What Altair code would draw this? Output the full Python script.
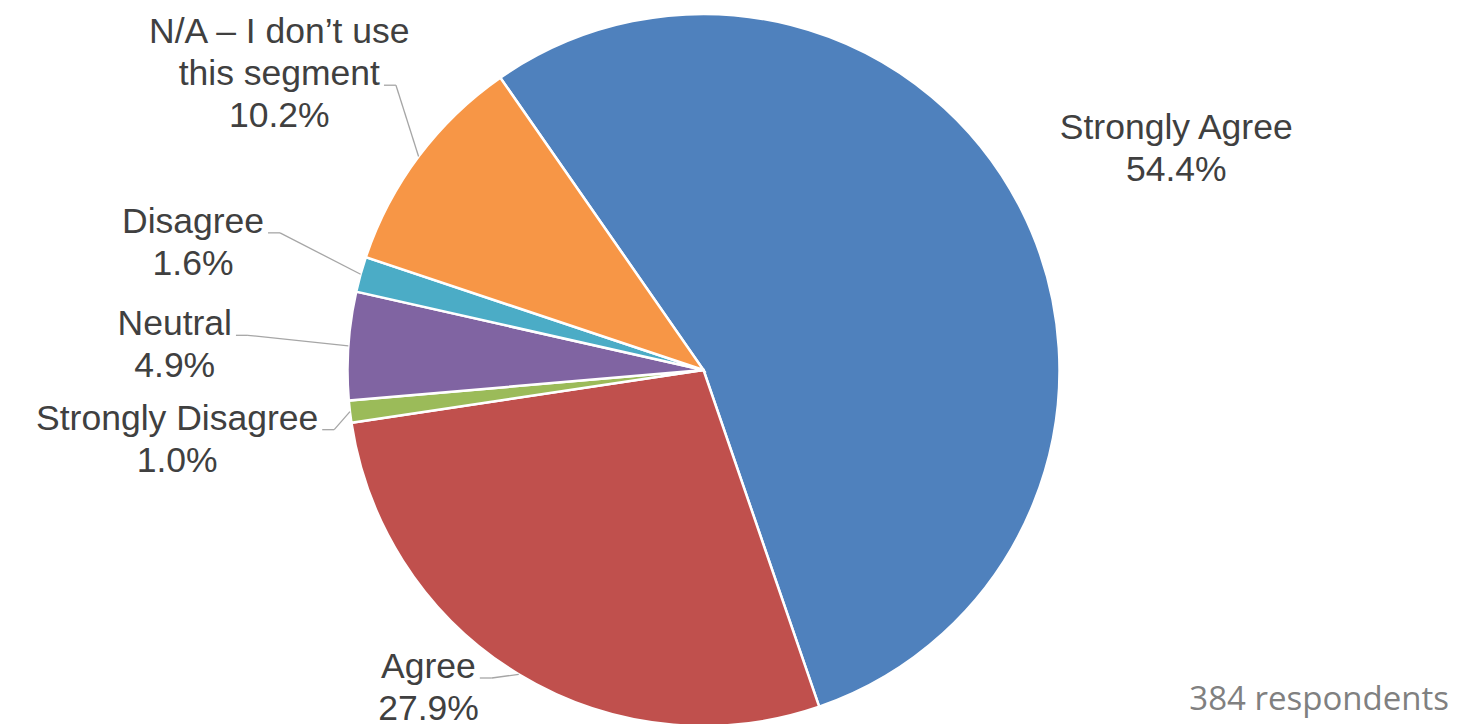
import math
import altair as alt
import pandas as pd

# ---- data ----
categories = ["Strongly Agree", "Agree", "Strongly Disagree", "Neutral", "Disagree",
              "N/A – I don’t use this segment"]
percent = [54.4, 27.9, 1.0, 4.9, 1.6, 10.2]
label_names = [["Strongly Agree"], ["Agree"], ["Strongly Disagree"], ["Neutral"],
               ["Disagree"], ["N/A – I don’t use", "this segment"]]
colors = ["#4F81BD", "#C0504D", "#9BBB59", "#8064A2", "#4BACC6", "#F79646"]
note_text = "384 respondents"

# ---- layout / style ----
W, H = 1451, 716
CX, CY = 695.5, 362.0          # pie centre inside the plot
R = 356                         # pie radius
FIRST_SLICE_DEG = 325.2         # rotation of first slice (clockwise from 12 o'clock)
START = math.radians(FIRST_SLICE_DEG)
RX, RY, LBL_DY = 530, 510, 10   # label ellipse
LBL_MAX_Y = 680                 # keep label blocks inside the frame
FS = 35.5
LH = 42
FONT = "Liberation Sans"
TXT = "#404040"

# Arial / Liberation Sans advance widths (1/1000 em) for measuring label lines
ARIAL = {" ": 278, "S": 667, "t": 278, "r": 333, "o": 556, "n": 556, "g": 556, "l": 222,
         "y": 500, "A": 667, "e": 556, "D": 722, "i": 222, "s": 500, "a": 556, "N": 722,
         "u": 556, "/": 278, "–": 556, "I": 278, "d": 556, "’": 222, "h": 556, "m": 833,
         ".": 278, "%": 889}


def text_w(s):
    return sum(ARIAL.get(c, 556) for c in s) * FS / 1000.0


rows = []
for i, (cat, v, names) in enumerate(zip(categories, percent, label_names)):
    lines = names + [f"{v:.1f}%"]
    n = len(lines)
    idx = (n - 1) // 2
    rows.append({
        "category": cat,
        "value": v,
        "order": i,
        "label": "\n".join(lines),
        "n_lines": n,
        "attach_w": text_w(lines[idx]),
        "attach_dy": (idx - (n - 1) / 2.0) * LH + 11,
    })
df = pd.DataFrame(rows)

base = alt.Chart(df)

pie = base.mark_arc(radius=R, stroke="white", strokeWidth=2.5).encode(
    theta=alt.Theta("value:Q", stack=True,
                    scale=alt.Scale(range=[START, START + 2 * math.pi])),
    color=alt.Color("category:N", scale=alt.Scale(domain=categories, range=colors),
                    legend=None),
    order=alt.Order("order:Q"),
    x=alt.value(CX),
    y=alt.value(CY),
)

geo = (
    base.transform_joinaggregate(total="sum(value)")
    .transform_window(cum="sum(value)", sort=[alt.SortField("order")], frame=[None, 0])
    .transform_calculate(mid=f"{START} + 2*PI*(datum.cum - datum.value/2)/datum.total")
    .transform_calculate(
        side="sin(datum.mid) >= 0 ? 1 : -1",
        lx=f"{CX} + {RX}*sin(datum.mid)",
        ly=f"min({CY} + {LBL_DY} - {RY}*cos(datum.mid), {LBL_MAX_Y})",
        ex=f"{CX} + {R}*sin(datum.mid)",
        ey=f"{CY} - {R}*cos(datum.mid)",
    )
    .transform_calculate(
        ty=f"datum.ly - (datum.n_lines - 1)*{LH}/2",
        ax="datum.lx - datum.side*(datum.attach_w/2 + 4)",
        ay="datum.ly + datum.attach_dy",
    )
    .transform_calculate(bx="datum.ax - datum.side*12")
)

labels = geo.mark_text(
    font=FONT, fontSize=FS, lineHeight=LH, color=TXT, align="center",
    baseline="middle", lineBreak="\n",
).encode(
    x=alt.X("lx:Q", scale=None, axis=None),
    y=alt.Y("ty:Q", scale=None, axis=None),
    text="label:N",
)

leaders = geo.transform_filter("datum.value < 50")
lead1 = leaders.mark_rule(color="#A6A6A6", strokeWidth=1.3).encode(
    x=alt.X("ax:Q", scale=None, axis=None), y=alt.Y("ay:Q", scale=None, axis=None),
    x2="bx:Q", y2="ay:Q",
)
lead2 = leaders.mark_rule(color="#A6A6A6", strokeWidth=1.3).encode(
    x=alt.X("bx:Q", scale=None, axis=None), y=alt.Y("ay:Q", scale=None, axis=None),
    x2="ex:Q", y2="ey:Q",
)

note = alt.Chart(pd.DataFrame({"t": [note_text]})).mark_text(
    font="Open Sans", fontSize=33, color="#808080", align="right", baseline="alphabetic",
).encode(x=alt.value(W - 10), y=alt.value(702), text="t:N")

chart = (
    alt.layer(pie, lead1, lead2, labels, note)
    .properties(width=W, height=H, autosize=alt.AutoSizeParams(type="none"), padding=0,
                view=alt.ViewBackground(strokeWidth=0, strokeOpacity=0))
    .configure_view(strokeWidth=0, strokeOpacity=0)
    .configure(background="white")
)

chart.save("out.html", embed_options={"renderer": "svg", "actions": False})
